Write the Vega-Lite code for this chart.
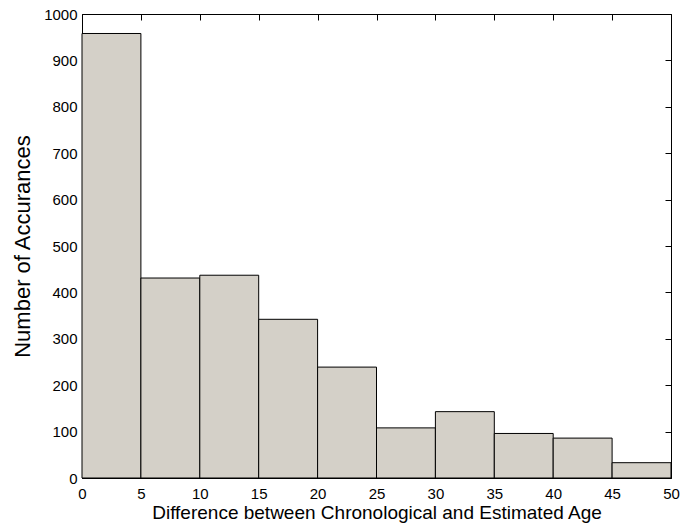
{
  "$schema": "https://vega.github.io/schema/vega-lite/v6.json",
  "autosize": "none",
  "width": 589,
  "height": 464,
  "padding": {"left": 82, "top": 14, "right": 9, "bottom": 49},
  "background": "white",
  "config": {
    "font": "Liberation Sans",
    "view": {"stroke": null},
    "axis": {
      "grid": false,
      "domainColor": "#000000",
      "domainWidth": 1,
      "tickColor": "#000000",
      "tickSize": -6,
      "tickWidth": 1,
      "labelFont": "Liberation Sans",
      "labelFontSize": 15,
      "labelColor": "#000000",
      "titleFont": "Liberation Sans",
      "titleFontSize": 19,
      "titleFontWeight": "normal",
      "titleColor": "#000000"
    }
  },
  "data": {
    "values": [
      {"bin_start": 0, "bin_end": 5, "count": 958},
      {"bin_start": 5, "bin_end": 10, "count": 431},
      {"bin_start": 10, "bin_end": 15, "count": 437},
      {"bin_start": 15, "bin_end": 20, "count": 342},
      {"bin_start": 20, "bin_end": 25, "count": 239},
      {"bin_start": 25, "bin_end": 30, "count": 108},
      {"bin_start": 30, "bin_end": 35, "count": 143},
      {"bin_start": 35, "bin_end": 40, "count": 96},
      {"bin_start": 40, "bin_end": 45, "count": 86},
      {"bin_start": 45, "bin_end": 50, "count": 33}
    ]
  },
  "resolve": {"axis": {"x": "independent", "y": "independent"}},
  "layer": [
    {
      "mark": {"type": "rect", "fill": "#d4d0c8", "stroke": "#000000", "strokeWidth": 1},
      "encoding": {
        "x": {
          "field": "bin_start",
          "type": "quantitative",
          "scale": {"domain": [0, 50], "nice": false, "zero": false},
          "axis": {
            "orient": "bottom",
            "values": [0, 5, 10, 15, 20, 25, 30, 35, 40, 45, 50],
            "labelPadding": 14,
            "labelFlush": false,
            "title": "Difference between Chronological and Estimated Age",
            "titlePadding": 2
          }
        },
        "x2": {"field": "bin_end"},
        "y": {
          "field": "count",
          "type": "quantitative",
          "scale": {"domain": [0, 1000], "nice": false},
          "axis": {
            "orient": "left",
            "values": [0, 100, 200, 300, 400, 500, 600, 700, 800, 900, 1000],
            "format": "d",
            "labelPadding": 11,
            "labelFlush": false,
            "title": "Number of Accurances",
            "titleFontSize": 22,
            "titlePadding": 9
          }
        },
        "y2": {"datum": 0}
      }
    },
    {
      "mark": {"type": "rect", "opacity": 0},
      "encoding": {
        "x": {
          "field": "bin_start",
          "type": "quantitative",
          "axis": {
            "orient": "top",
            "values": [0, 5, 10, 15, 20, 25, 30, 35, 40, 45, 50],
            "labels": false,
            "title": null
          }
        },
        "x2": {"field": "bin_end"},
        "y": {
          "field": "count",
          "type": "quantitative",
          "axis": {
            "orient": "right",
            "values": [0, 100, 200, 300, 400, 500, 600, 700, 800, 900, 1000],
            "labels": false,
            "title": null
          }
        },
        "y2": {"datum": 0}
      }
    }
  ]
}
